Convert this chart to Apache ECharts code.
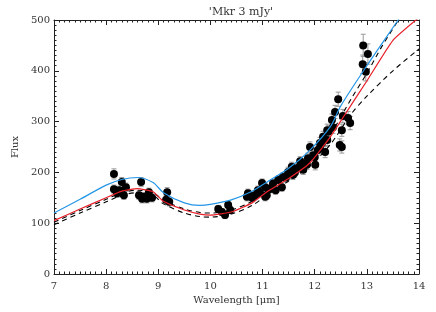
<!DOCTYPE html>
<html>
<head>
<meta charset="utf-8">
<script src="https://cdn.jsdelivr.net/npm/echarts@6/dist/echarts.min.js"></script>
<style>html,body{margin:0;padding:0;background:#fff}#c{width:436px;height:312px}</style>
</head>
<body>
<div id="c"></div>
<script>
const titleText = "'Mkr 3 mJy'";
const xTicks = [7, 8, 9, 10, 11, 12, 13, 14];
const yTicks = [0, 100, 200, 300, 400, 500];

// Observed points: [wavelength, flux, error]
const points = [
  [8.15,197,10],[8.15,167,8],[8.25,165,8],[8.30,181,9],[8.21,159,8],[8.38,171,8],[8.34,155,8],[8.28,161,8],
  [8.67,181,9],[8.63,155,8],[8.73,152,8],[8.82,161,8],[8.88,150,8],[8.69,148,8],[8.78,148,8],
  [9.17,161,9],[9.15,146,8],[9.21,142,8],
  [10.15,128,7],[10.22,122,7],[10.28,116,7],[10.34,136,7],[10.38,126,7],
  [10.70,152,8],[10.72,159,8],[10.80,150,8],[10.85,155,8],[10.91,165,8],[10.95,160,8],[10.99,179,8],
  [11.05,171,8],[11.08,155,8],[11.05,152,8],[11.15,168,8],[11.20,178,8],[11.25,165,8],
  [11.30,185,8],[11.39,191,8],[11.37,171,8],[11.45,190,9],[11.49,201,9],[11.56,211,9],[11.58,195,9],
  [11.62,200,9],[11.68,209,9],[11.72,222,9],[11.76,218,9],[11.78,205,9],[11.85,215,9],[11.87,228,10],
  [11.91,250,10],[11.97,234,10],[12.00,230,10],[12.01,215,10],[12.06,244,10],[12.10,258,11],[12.10,248,11],
  [12.14,258,11],[12.16,270,11],[12.20,240,11],[12.24,264,11],[12.24,283,12],[12.26,280,12],
  [12.33,303,12],[12.35,289,12],[12.39,319,13],[12.45,344,14],[12.48,254,12],[12.52,250,12],
  [12.52,283,12],[12.54,311,13],[12.64,307,13],[12.68,297,13],
  [12.92,413,18],[12.93,450,22],[12.98,398,18],[13.02,433,20]
];

// Model curves
const blueModel = [[7.0,120],[7.5,147],[8.0,175],[8.3,186],[8.6,190],[8.9,180],[9.1,160],[9.5,140],[9.8,135],[10.0,137],[10.4,146],[10.8,163],[11.1,182],[11.5,208],[11.9,243],[12.3,290],[12.5,331],[13.0,410],[13.6,500],[14.0,560]];
const redModel = [[7.0,105],[7.5,128],[8.0,150],[8.3,163],[8.6,168],[8.9,162],[9.1,143],[9.5,126],[9.8,118],[10.0,116],[10.4,122],[10.8,140],[11.1,163],[11.5,188],[11.9,218],[12.3,270],[12.7,333],[13.0,380],[13.5,460],[14.0,505]];
const dashUpper = [[7.0,102],[7.5,125],[8.0,147],[8.3,160],[8.6,165],[8.9,160],[9.1,145],[9.5,128],[9.8,121],[10.0,120],[10.4,126],[10.8,143],[11.1,165],[11.5,192],[11.9,225],[12.3,275],[12.7,345],[13.0,395],[13.3,450],[13.7,515]];
const dashLower = [[7.0,97],[7.5,120],[8.0,142],[8.3,155],[8.6,160],[8.9,155],[9.1,138],[9.5,120],[9.8,113],[10.0,112],[10.4,118],[10.8,135],[11.1,157],[11.5,183],[11.9,212],[12.3,255],[12.7,315],[13.0,350],[13.5,400],[14.0,443]];

const FONT = 'DejaVu Serif';
const txt = '#333';
const axisCol = '#222';

function mkX(pos, show) {
  return {
    type: 'value', min: xTicks[0], max: xTicks[xTicks.length-1], interval: 1, position: pos,
    axisLine: { show: true, onZero: false, lineStyle: { color: axisCol, width: 1 } },
    axisTick: { show: true, inside: true, length: 5, lineStyle: { color: axisCol } },
    minorTick: { show: true, splitNumber: 10, length: 2.5, lineStyle: { color: axisCol } },
    splitLine: { show: false }, minorSplitLine: { show: false },
    axisLabel: { show: show, color: txt, fontFamily: FONT, fontSize: 10, margin: 7 },
    name: show ? 'Wavelength [μm]' : '', nameLocation: 'middle', nameGap: 16,
    nameTextStyle: { color: txt, fontFamily: FONT, fontSize: 10 }
  };
}
function mkY(pos, show) {
  return {
    type: 'value', min: yTicks[0], max: yTicks[yTicks.length-1], interval: 100, position: pos,
    axisLine: { show: true, onZero: false, lineStyle: { color: axisCol, width: 1 } },
    axisTick: { show: true, inside: true, length: 5, lineStyle: { color: axisCol } },
    minorTick: { show: true, splitNumber: 10, length: 2.5, lineStyle: { color: axisCol } },
    splitLine: { show: false }, minorSplitLine: { show: false },
    axisLabel: { show: show, color: txt, fontFamily: FONT, fontSize: 10, margin: 4 },
    name: show ? 'Flux' : '', nameLocation: 'middle', nameGap: 18,
    nameTextStyle: { color: txt, fontFamily: FONT, fontSize: 10 }
  };
}

const chart = echarts.init(document.getElementById('c'), null, { renderer: 'canvas' });
chart.setOption({
  animation: false,
  backgroundColor: '#fff',
  title: {
    text: titleText, left: 236, top: 2, textAlign: 'center',
    textStyle: { color: txt, fontFamily: FONT, fontSize: 11, fontWeight: 'normal' }
  },
  grid: { left: 54, right: 17, top: 20, bottom: 38 },
  xAxis: [mkX('bottom', true), mkX('top', false)],
  yAxis: [mkY('left', true), mkY('right', false)],
  series: [
    {
      type: 'custom', z: 2, data: points,
      renderItem: function (params, api) {
        const x = api.value(0), y = api.value(1), e = api.value(2);
        const t = api.coord([x, y + e]);
        const b = api.coord([x, y - e]);
        const w = 2.5;
        const st = { stroke: '#999', lineWidth: 1 };
        return { type: 'group', children: [
          { type: 'line', shape: { x1: t[0], y1: t[1], x2: b[0], y2: b[1] }, style: st },
          { type: 'line', shape: { x1: t[0]-w, y1: t[1], x2: t[0]+w, y2: t[1] }, style: st },
          { type: 'line', shape: { x1: b[0]-w, y1: b[1], x2: b[0]+w, y2: b[1] }, style: st }
        ]};
      }
    },
    {
      type: 'scatter', z: 3, data: points.map(p => [p[0], p[1]]),
      symbol: 'circle', symbolSize: 8, itemStyle: { color: '#000', opacity: 1 }
    },
    { type: 'line', z: 4, data: dashLower, showSymbol: false, smooth: 0.3, clip: true,
      lineStyle: { color: '#000', width: 1.1, type: [5, 4] } },
    { type: 'line', z: 4, data: dashUpper, showSymbol: false, smooth: 0.3, clip: true,
      lineStyle: { color: '#000', width: 1.1, type: [5, 4] } },
    { type: 'line', z: 5, data: redModel, showSymbol: false, smooth: 0.15, clip: true,
      lineStyle: { color: '#e8202a', width: 1.2 } },
    { type: 'line', z: 5, data: blueModel, showSymbol: false, smooth: 0.3, clip: true,
      lineStyle: { color: '#2596e6', width: 1.2 } }
  ]
});
</script>
</body>
</html>
